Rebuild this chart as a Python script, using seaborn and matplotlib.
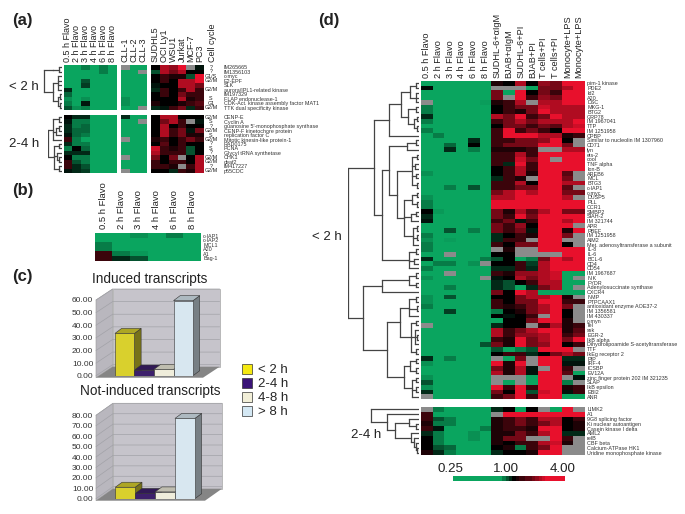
import numpy as np
import pandas as pd
import matplotlib
matplotlib.use("Agg")
import matplotlib.pyplot as plt
from matplotlib.colors import LinearSegmentedColormap
from matplotlib.patches import Patch, Polygon
import seaborn as sns

x = np.nan

# Panel (a)
a_cols_flavo = ["0.5 h Flavo", "2 h Flavo", "3 h Flavo", "4 h Flavo", "6 h Flavo", "8 h Flavo"]
a_cols_cll = ["CLL-1", "CLL-2", "CLL-3"]
a_cols_lines = ["SUDHL5", "OCI Ly1", "WSU1", "Jurkat", "MCF-7", "PC3"]
a_top_genes = ["IM265665", "IM1356103", "c-myc", "E2-EPF", "SLK", "aurora/IPL1-related kinase", "IM197329",
               "FLAP endonuclease-1", "CDK-Act. kinase assembly factor MAT1", "TTK dual specificity kinase"]
a_top_phase = ["?", "?", "G1/S", "G2/M", "", "G2/M", "", "S", "G1", "G2/M"]
a_low_genes = ["CENP-E", "Cyclin A", "guanosine 5'-monophosphate synthase", "CENP-F kinetochore protein",
               "replication factor C", "Mitotic kinesin-like protein-1", "RAD0175", "PCNA",
               "Glycyl tRNA synthetase", "CHK1", "deaf2", "IM417227", "p55CDC"]
a_low_phase = ["G2/M", "S", "?", "G2/M", "S", "G2/M", "?", "S", "?", "G2/M", "G2/M", "?", "G2/M"]

a_top_flavo = [[0, 0, 1, 0, 1, 0], [0, 0, 0, 0, 1, 0], [0, 0, 0, 0, 0, 0], [0, 0, 2, 0, 0, 0], [0, 0, 2.5, 0, 0, 0],
               [3, 0, 0, 0, 0, 0], [1.5, 0, 0, 0, 0, 0], [0.5, 0, 0.5, 0, 0, 0], [1, 0, 3.5, 0, 0, 0], [2, 0.5, 1, 0, 0, 0]]
a_top_cll = [[x, 0, 0], [0, 0, x], [0, 0, 0], [0, 0, 0], [0, 0, 0], [0, 0, 0], [0, 0, 0], [0.5, 0, 0], [0.5, 0, 0], [0, 0, x]]
a_top_lines = [[4, 7, 6.5, 8, x, 3.5], [2, 7, 6, 7, 4, 4], [4, 5, 4.5, 4.5, 2, 8], [4, 5, 4, 7, 7, 8], [3.5, 4, 4, 7, 7, 6],
               [3, 5, 4, 5, 7, 5], [4, 5, 4, 6, 5, 5], [4, 4, 4, 7, 4.5, 5], [4.5, 4, 4, 4.5, 5, 5.5], [3, 3.5, 5, 6, 3, 5]]
a_low_flavo = [[4, 3, 3, 0, 0, 0], [3.5, 1, 1, 0, 0, 0], [3, 1, 1.5, 0, 0, 0], [3, 1.5, 1.5, 0, 0, 0], [3.5, 1.5, 1, 0, 0, 0],
               [5, 1, 0, 0, 0, 0], [3, 1, 1, 0, 0, 0], [1, 4, 1.5, 0, 0, 0], [3, 3, 3, 0, 0, 0], [4, 1, 1, 0, 0, 0],
               [5, 2, 1, 0, 0, 0], [5, 3, 2, 0, 0, 0], [3.5, 3, 2.5, 0, 0, 0]]
a_low_cll = [[3, 0, 0], [0, 0, x], [0, 0, 0], [0, 0, 0], [0, 0, 0], [x, 0, 0], [0, 0, 0], [0, 0, 0], [0, 0, 0], [x, 0, 0],
             [0, 0, 0], [0, 0, 0], [x, 0, 0]]
a_low_lines = [[4, 7, 7, 4, 4, 4], [4, 6, 7, 5, x, 3.5], [4, 7, 4, 5, 4, 4], [4, 7, 5, 6, 3.5, 6], [4, 7, 5, 6, 4.5, 4.5],
               [4.5, 5, 4, 5, 6, 5], [4, 5.5, 4, 5, 4, 4], [7.5, 5, 4.5, 5, 2, 4], [7, 5, 5, 5, 2, 4], [6, 4, 6, x, 4, 7],
               [5, 4, 5, 5, 4, 7], [5, 5, 4.5, x, 5, 7], [4, 4, 3, 5, 4.5, 7]]

# Panel (b)
b_genes = ["c-IAP1", "c-IAP2", "MCL1", "A20", "A1", "Bag-1"]
b_values = [[0, 0, 0.5, 0, 1, 0], [0, 0, 0, 0, 0, 0], [1, 0, 0, 0, 0, 0], [1, 0, 0, 0, 0, 0], [5, 1, 0.3, 0, 0, 0], [5, 3, 2, 0, 0, 0]]

# Panel (c)
c_bins = ["< 2 h", "2-4 h", "4-8 h", "> 8 h"]
c_induced = [33.5, 4.5, 5, 59.5]
c_not_induced = [11, 5, 6.5, 77]
c_colors = ["#f5e911", "#3a1378", "#f2efd8", "#d4e8f4"]

# Panel (d)
d_cols = a_cols_flavo + ["SUDHL-6+\u03b1IgM", "BJAB+\u03b1IgM", "SUDHL-6+PI", "BJAB+PI", "T cells+PI", "T cells+PI",
                         "Monocyte+LPS", "Monocyte+LPS"]
d_main_genes = ["pim-1 kinase", "PDE2", "Id2", "A20", "DSC", "MKG-1", "BTG2", "GRP78", "IM 1967041", "TTP", "IM 1251958", "CPBP",
                "Similar to nucleolin IM 1307960", "CD71", "lyn", "ets-2", "cool", "TNF alpha", "Ion-B", "AREB6", "MCL", "BTG3",
                "c-IAP1", "c-myc", "DUSP5", "PLL", "CCR1", "SMBP2", "SIAH-2", "IM 321744", "APR", "PBEF", "IM 1251958", "AIM2",
                "Met. adenosyltransferase a subunit", "IL-8", "IL-6", "BCL-6", "CD4", "CD54", "IM 1967687", "NIK", "FYDR",
                "Adenylosuccinate synthase", "CXCR4", "NMP", "PTPCAAX1", "antioxidant enzyme AOE37-2", "IM 1356581", "IM 430337",
                "c-myn", "Tel", "ssk", "EGR-2", "IkB alpha", "Dihydrolipoamide S-acetyltransferase", "TTF", "IkEg receptor 2",
                "PIP", "IRF-4", "ICSBP", "EV12A", "zinc finger protein 202 IM 321235", "SLAP", "IkB epsilon", "EBI2", "ANR"]
d_main = [
    [0, 0, 0, 0, 0, 0, 4.5, 4, 7, 4, 6.5, 6, 8, 8],
    [3.7, 0, 0, 0, 0, 0, x, x, x, 0, 6, 6, 7, 8],
    [0, 0, 0, 0, 0, 0, 6, 0, 8, 4, 6, 5, 8, 8],
    [0, 0, 0, 0, 0, 0, 6, x, 8, 5, 6.5, 6, 8, 8],
    [x, 0, 0, 0, 0, 0.2, 4.5, 5, 7, x, 7, 7, 8, 8],
    [1, 0, 0, 0, 0, 0, 4, 5, 6, 6, 7.5, 7, 7, 7],
    [1, 0, 0, 0, 0, 0, 4, 5, 4.5, 6, 8, 7, 7, 7],
    [3, 0, 0, 0, 0, 0, 7, 6, 8, 5, 6, 8, 7, 7],
    [1, 0, 0, 0, 0, 0, 5, 6, 7, 6, 7, 7, 7, 8],
    [0, 0, 0, 0, 0, 0, 4, 6, 6, 5, 6, 5.5, 7, 7.5],
    [1, 0, 0, 0, 0, 0, 5, 8, 5, 6, 5, 4, 8, 8],
    [0, 1, 0, 0, 0, 0, 5, 8, 8, 8, 7, 7, 4.5, 5],
    [0, 0, 0, 0, 3, 0, 5, 5, 6, 6, 6.5, 8, 4, x],
    [0, 0, 1.5, 0, 4, 0, 5, 6, 6, 6, 8, 8, 6, x],
    [0, 0, 3, 0, 1, 0, 4.5, 4.5, 4.5, 5, x, x, 7, 7],
    [0, 0, 0, 0, 0, 0, 5, 5, 7, 5, 8, 8, 8, 8],
    [0, 0, 0, 0, 0, 0, 5, 5, 7.5, 6, 8, x, 8, 8],
    [0, 0, 0, 0, 0, 0, 5, 3, 8, 5, 8, 8, 8, 8],
    [0, 0, 0, 0, 0, 0, 4, 5, 7, 5, 8, 8, 8, 8],
    [0.5, 0, 0, 0, 0, 0, 4, 5, 7, 4.5, 8, 8, 5.5, x],
    [0, 0, 0, 0, 0, 0, 3, 5, 4.5, x, 8, 8, 6, x],
    [0, 0, 0, 0, 0, 0, 5, 5, 7, 4, 8, 8, 7, 7],
    [0, 0, 1, 0, 2, 0, 5, 5, 6, 6, 8, 8, 5.5, x],
    [0, 0, 0, 0, 0, 0, 6, 7, 8, 7, 8, 8, 6, 6],
    [0.5, 0, 0, 0, 0, 0, 7, 7, 8, 8, 8, 8, 7, x],
    [1, 0, 0, 0, 0, 0, 8, 8, 8, 8, 8, 8, 8, 8],
    [1, 0, 0, 0, 0, 0, 8, 8, 8, 8, 8, 8, 8, 8],
    [4, 0.3, 0, 0, 0, 0, 6, 4.5, 7, 5.5, 7, 8, 6, 6],
    [3, 0, 0, 0, 0, 0, 6, 5, 8, 6, 8, 8, 8, 8],
    [3.5, 0, 0, 0, 0, 0, 5, 6, 3.5, 5, 8, 8, 7, 8],
    [0, 0, 0, 0, 0, 0, 6, 5, 6.5, 4, 8, 8, 8, x],
    [0, 0, 2, 0, 1, 0, 6, 5, 6, 3.5, 8, 8, 4.5, 8],
    [1, 0, 0, 0, 0, 0, 3, 4, 5, 4.5, 8, 8, 6, x],
    [0.5, 0, 0.2, 0, 0, 0, 3, 5, 5, x, 8, 8, x, x],
    [1, 0, 0, 0, 0, 0, 5, 4, 6, 6, 8, 8, 4, x],
    [1, 0, 0, 0, 0, 0, x, 4.5, x, x, 8, 8, 8, 8],
    [0, 0, x, 0, 0, 0, 4, 4, x, x, x, x, 8, 8],
    [3, 0, 0, 0, 0, 1, 2, 4, 0, 1, 6, 8, 7, 8],
    [0, 1, 1, 0, 0.5, x, 4, 4, 5, 2.5, 7, 8, 8, 8],
    [1, 0, 0, 0, 0, 0, 3, 3, 5, 3, 7, 8, 8, 8],
    [0, 0, x, 0, 0, 0, 5, 4.5, 6.5, 6.5, 7, 7.5, 0, 0],
    [0.5, 0, 0, 0, 0, x, 3.5, 4, 7, 6, 7, 7.5, 0, x],
    [0, 0, 0, 0, 0, 0, 3, 2, 4, 5, 7, 7, 0, 0],
    [0, 0, 1, 0, 0, 0, 3, 2, 0, 3, 6, 7, 0, x],
    [0, 0, 0, 0, 0, 0, 6, 4, 8, 7, 0, 0, 0, 0],
    [0.5, 0, 2, 0, 0, 0, 4, 4, 6, 7, 7, 8, 4.5, x],
    [0.5, 0, 0, 0, 0, 0, 5, 4, 6, 6, 8, 8, 5, 5],
    [1, 0, 0, 0, 0, 0, 5, 4.5, 5, 6, 7, 8, 6, x],
    [0, 0, 2.5, 0, 0, 0, 1, 4, 4.5, 6, 7, 8, 4, x],
    [0, 0, 0, 0, 0, 0, 4, 3.5, 4, 5, x, 8, 4, x],
    [0, 0, 0, 0, 0, 0, 0, 4, 4, 6, 8, 8, 4.5, x],
    [x, 0, 0, 0, 0, 0, 3, 4, 4, x, 5, 7, 4.5, 5],
    [0, 0, 0, 0, 0, 0, 7, 5, 6, 7, 8, 8, 4.5, 5.5],
    [0, 0, 0, 0, 0, 0, 7, 5, 6.5, 6.5, 7, 8, 5, 6],
    [0, 0, 0, 0, 0, 0, 5, 4.5, 8, 6, 7, 8, 6, 8],
    [0, 0, 0, 0, 0, 2, 6, 4.5, 8, 6, 6.5, 8, 4, 5],
    [0, 0, 0, 0, 0, 0, 2, 0, 1, 2, 8, 8, 8, x],
    [0, 0, 0, 0, 0, 0, 4, 5, 5, 3, 4, 6, 7, 6],
    [3, 0, 1, 0, 0, 0, x, 0, 6, x, 8, 8, 3, 3],
    [0.5, 0, 0, 0, 0, 0, 8, 4.5, 8, x, 8, 8, 3.5, 3.5],
    [0, 0, 0, 0, 0, 0, 6, 4.5, 7, 3.5, x, 8, 5, x],
    [0, 0, 0, 0, 0, 0, 7, 4.5, 7, 3.5, 8, 8, 5.5, 0],
    [0.5, 0, 0, 0, 0, 0, x, x, x, 0, 8, 8, x, 3.5],
    [2, 0, 0, 0, 0, 0, x, 0, x, 0, 8, 8, 1, x],
    [0.5, 0, 0, 0, 0, 0, 8, 5, 8, 5, 8, 8, 4.5, 5],
    [3, 0, 0, 0, 0, 0, 6, 4, 8, 2, 7.5, 8, 3.5, 5],
    [x, 0, 0, 0, 0, 0, 5, 6, 8, 5, 8, 8, 0, 0],
]
d_low_genes = ["LIMK2", "A1", "9G8 splicing factor", "Ki nuclear autoantigen", "Casein kinase I delta", "AML2", "relB",
               "CBF beta", "Calcium-ATPase HK1", "Uridine monophosphate kinase"]
d_low = [
    [x, 1, 0, 0, 0, 0, 3, 4, 0, 4, x, 0, 8, x],
    [5, 0, 0, 0, 0, 0, x, 8, 8, 8, 8, 8, 8, 8],
    [5, 2, 1, 0, 0, 0, 4.5, 5, 6, 5, 7, 7, 4, 5],
    [4.5, 1, 1, 0, 0, 0, 4.5, 5, 6, 5, 6, 7, 4, 4.5],
    [5, 3.5, 0, 0, 0, 1, 4.5, 5, 5, 4.5, 8, 8, 4, 4.5],
    [3, 1, 0, 0, 0.5, 0, 4.5, 4.5, 6, 5, 7, 8, 3, 3],
    [4, 1, 0, 0, 0.5, 0, 4.5, 6, 6, x, x, 8, 5, x],
    [4, 1, 0, 0, 0, 0, 4.5, 4, 5, 5, 7, 7.5, 4.5, x],
    [4, 2, 1.5, 0, 0, 0, 4, 4.5, 1, 5, 6, 8, x, x],
    [4.5, 3, 1, 0, 0, 0, 3, 4, 4, 4.5, 8, 8, x, x],
]
cbar_levels = [0, 0, 0, 0, 0, 0, 0, 0, 0, 0, 0, 0, 0, 0, 0, 1, 2, 3, 4, 4.5, 5, 5, 5.5, 5.5, 6, 6.5, 7, 7.5, 8, 8, 8, 8, 8, 8]
cbar_labels = ["0.25", "1.00", "4.00"]

# dendrograms: (merge distance, child, child, ...), a child is a row number or another merge
tree_a_top = (17.7, (9, (3, 0, 1)), (9, (4, 2, 3, 4, 5), (4, (2, 6, 7), (2, 8, 9))))
tree_a_low = (14, (9, (3, 0, 1), (6, (3, 2, 3), 4), 5), (8, (3, 6, 7), (5, 8, (3, 9, 10)), (3, 11, 12)))
tree_d_main = (70.7,
               (44.7,
                (29.7, (18, (9, (3, 0, 1), (3, 2, 3, 4)), (11, (3, 5, 6), (5, (2, 7, 8), (2, 9, 10)))), 11),
                (37,
                 (29.7, (11.7, (3, 12, 13), 14),
                  (22, (7, (2, 15, 16), (4, 17, 18), (3, 19, 20), (2, 21, 22)),
                   (15, (7, (2, 23, 24), (2, 25, 26)), (8, (3, 27, 28), 29), (6, (2, 30, 31), (2, 32, 33), 34)))),
                 (10, (3, 35, 36), (5, 37, 38), 39))),
               (55.7,
                (37, (10, (3, 40, 41), (3, 42, 43)), 44),
                (32,
                 (19, (10, (3, 45, 46), (2, 47, 48), 49), (8, (3, 50, 51), (4, 52, (2, 53, 54), 55), (3, 56, 57))),
                 (15, (9, (3, 58, 59), (3, 60, 61)), (7, (3, 62, 63), (3, 64, 65), 66)))))
tree_d_low = (48, 0, (32, 1, (24, (10, 2, (3, 3, 4)), (8, 5, (5, 6, (3, 7, (2, 8, 9)))))))

W, H = 685, 514
sns.set_theme(style="white")
plt.rcParams["font.family"] = ["Liberation Sans", "DejaVu Sans"]
GREY = "#8b8b8b"
flavo_cmap = LinearSegmentedColormap.from_list("gbr", ["#0aa55f", "#000000", "#e8102c"])

fig = plt.figure(figsize=(W / 100, H / 100), dpi=100)


def px_axes(x0, y0, x1, y1):
    return fig.add_axes([x0 / W, 1 - y1 / H, (x1 - x0) / W, (y1 - y0) / H])


def heat(box, values, cols=None, genes=None, col_size=6.5, gene_size=3.9, col_pad=2):
    ax = px_axes(*box)
    ax.set_facecolor(GREY)
    frame = pd.DataFrame(values, index=genes, columns=cols)
    sns.heatmap(frame, ax=ax, cmap=flavo_cmap, vmin=0, vmax=8, cbar=False,
                xticklabels=cols if cols else False, yticklabels=genes if genes else False)
    ax.xaxis.tick_top()
    ax.yaxis.tick_right()
    ax.tick_params(axis="x", rotation=90, length=0, pad=col_pad, labelsize=col_size, colors="#222222")
    ax.tick_params(axis="y", rotation=0, length=0, pad=1.5, labelsize=gene_size, colors="#333333")
    return ax


def draw_tree(ax, node, color="#444444", lw=0.9):
    # returns (distance, y) of the node
    if not isinstance(node, tuple):
        return 0, node + 0.5
    dist = node[0]
    kids = [draw_tree(ax, kid, color, lw) for kid in node[1:]]
    ys = [k[1] for k in kids]
    for kid_dist, kid_y in kids:
        ax.plot([kid_dist, dist], [kid_y, kid_y], color=color, lw=lw, solid_capstyle="projecting")
    ax.plot([dist, dist], [min(ys), max(ys)], color=color, lw=lw)
    return dist, (min(ys) + max(ys)) / 2


def tree_axes(box, tree, n_rows, lw=0.9):
    ax = px_axes(*box)
    ax.set_xlim(box[2] - box[0], 0)
    ax.set_ylim(n_rows, 0)
    ax.axis("off")
    draw_tree(ax, tree, lw=lw)


def label(px, py, text, size, **kw):
    fig.text(px / W, 1 - py / H, text, fontsize=size, va="center", color="#222222", **kw)


def bars3d(box, values, top_val, ticks, title, title_y, wall_dy):
    ax = px_axes(*box)
    sns.barplot(x=c_bins, y=values, hue=c_bins, palette=c_colors, width=1, legend=False, ax=ax,
                edgecolor="#333333", linewidth=0.4, zorder=5)
    per_x = 19.6
    ax.set_xlim(-0.5 - 19 / per_x, 3.5 + 10 / per_x)
    ax.set_ylim(0, top_val)
    px_h = box[3] - box[1]
    sy = top_val / px_h
    wall_dx_d, wall_dy_d = 16.7 / per_x, wall_dy * sy
    x0, x1 = ax.get_xlim()
    low = -2 * sy
    wall = "#c6c4cb"
    ax.add_patch(Polygon([(x0, low), (x0 + wall_dx_d, low + wall_dy_d), (x0 + wall_dx_d, top_val + wall_dy_d), (x0, top_val)],
                         fc="#b9b7be", ec="#9a9a9a", lw=0.4, clip_on=False, zorder=1))
    ax.add_patch(Polygon([(x0 + wall_dx_d, low + wall_dy_d), (x1 + wall_dx_d, low + wall_dy_d),
                          (x1 + wall_dx_d, top_val + wall_dy_d), (x0 + wall_dx_d, top_val + wall_dy_d)],
                         fc=wall, ec="#9a9a9a", lw=0.4, clip_on=False, zorder=1))
    ax.add_patch(Polygon([(x0, low), (x1, low), (x1 + wall_dx_d, low + wall_dy_d), (x0 + wall_dx_d, low + wall_dy_d)],
                         fc="#858585", ec="none", clip_on=False, zorder=2))
    for t in ticks:
        ax.plot([x0, x0 + wall_dx_d, x1 + wall_dx_d], [t, t + wall_dy_d, t + wall_dy_d], color="#a2a2a8", lw=0.5,
                clip_on=False, zorder=1.5)
    bar_dx, bar_dy = 6.7 / per_x, 5 * sy
    for patch in ax.patches[:]:
        if not isinstance(patch, matplotlib.patches.Rectangle):
            continue
        bx, bw, bh = patch.get_x(), patch.get_width(), patch.get_height()
        rgb = np.array(matplotlib.colors.to_rgb(patch.get_facecolor()))
        ax.add_patch(Polygon([(bx + bw, 0), (bx + bw + bar_dx, bar_dy), (bx + bw + bar_dx, bh + bar_dy), (bx + bw, bh)],
                             fc=rgb * 0.55, ec="#333333", lw=0.4, clip_on=False, zorder=4))
        ax.add_patch(Polygon([(bx, bh), (bx + bw, bh), (bx + bw + bar_dx, bh + bar_dy), (bx + bar_dx, bh + bar_dy)],
                             fc=rgb * 0.8, ec="#333333", lw=0.4, clip_on=False, zorder=4))
    ax.set_xticks([])
    ax.set_yticks(ticks)
    ax.set_yticklabels([f"{t:.2f}" for t in ticks], fontsize=6, color="#333333")
    ax.tick_params(axis="y", length=0, pad=2)
    ax.patch.set_alpha(0)
    sns.despine(ax=ax, left=True, bottom=True)
    label(150, title_y, title, 9.8, ha="center")


# panel a
heat((63.5, 65, 117, 110), a_top_flavo, a_cols_flavo)
heat((121, 65, 147, 110), a_top_cll, a_cols_cll)
ax = heat((151, 65, 204, 110), a_top_lines, a_cols_lines, a_top_genes)
ax.tick_params(axis="y", pad=14.4)
heat((63.5, 115, 117, 173), a_low_flavo)
heat((121, 115, 147, 173), a_low_cll)
ax = heat((151, 115, 204, 173), a_low_lines, None, a_low_genes)
ax.tick_params(axis="y", pad=14.4)
for i, phase in enumerate(a_top_phase):
    label(211, 65 + 4.5 * (i + 0.5), phase, 3.9, ha="center")
for i, phase in enumerate(a_low_phase):
    label(211, 115 + 4.46 * (i + 0.5), phase, 3.9, ha="center")
label(213, 62, "Cell cycle", 6.5, rotation=90, ha="center")
fig.texts[-1].set_va("bottom")
tree_axes((43, 65, 62, 110), tree_a_top, len(a_top_genes))
tree_axes((48, 115, 62, 173), tree_a_low, len(a_low_genes))
label(39, 87, "< 2 h", 9.5, ha="right")
label(39, 144, "2-4 h", 9.5, ha="right")

# panel b
heat((94.5, 233.5, 201, 260.5), b_values, a_cols_flavo, b_genes, col_size=6.8, col_pad=3)

# panel c
bars3d((96, 300, 203, 375.7), c_induced, 60, [0, 10, 20, 30, 40, 50, 60], "Induced transcripts", 279, 11)
bars3d((96, 415.3, 205, 498.7), c_not_induced, 80, [0, 10, 20, 30, 40, 50, 60, 70, 80], "Not-induced transcripts", 391, 12)
handles = [Patch(fc=c, ec="#333333", lw=0.5, label=b) for c, b in zip(c_colors, c_bins)]
fig.legend(handles=handles, loc="center left", bbox_to_anchor=(242 / W, 1 - 391 / H), frameon=False, fontsize=9.5,
           handlelength=0.78, handleheight=0.78, handletextpad=0.45, labelspacing=0.11, borderpad=0, borderaxespad=0)

# panel d
heat((421, 81, 585, 399), d_main, d_cols, d_main_genes, col_size=6.6)
heat((421, 407, 585, 455), d_low, None, d_low_genes)
tree_axes((348, 81, 419, 399), tree_d_main, len(d_main_genes))
tree_axes((370, 407, 419, 455), tree_d_low, len(d_low_genes))
label(342, 237, "< 2 h", 9.5, ha="right")
label(381, 435, "2-4 h", 9.5, ha="right")

cax = px_axes(453, 476, 565, 481)
sns.heatmap([cbar_levels], ax=cax, cmap=flavo_cmap, vmin=0, vmax=8, cbar=False, xticklabels=False, yticklabels=False)
for px, text in zip([450, 506, 563], cbar_labels):
    label(px, 469, text, 9.6, ha="center")

# panel letters
label(12, 21, "(a)", 12, fontweight="bold")
label(12, 190, "(b)", 12, fontweight="bold")
label(12, 277, "(c)", 12, fontweight="bold")
label(318, 20, "(d)", 12, fontweight="bold")

fig.savefig("out.png", dpi=100)
